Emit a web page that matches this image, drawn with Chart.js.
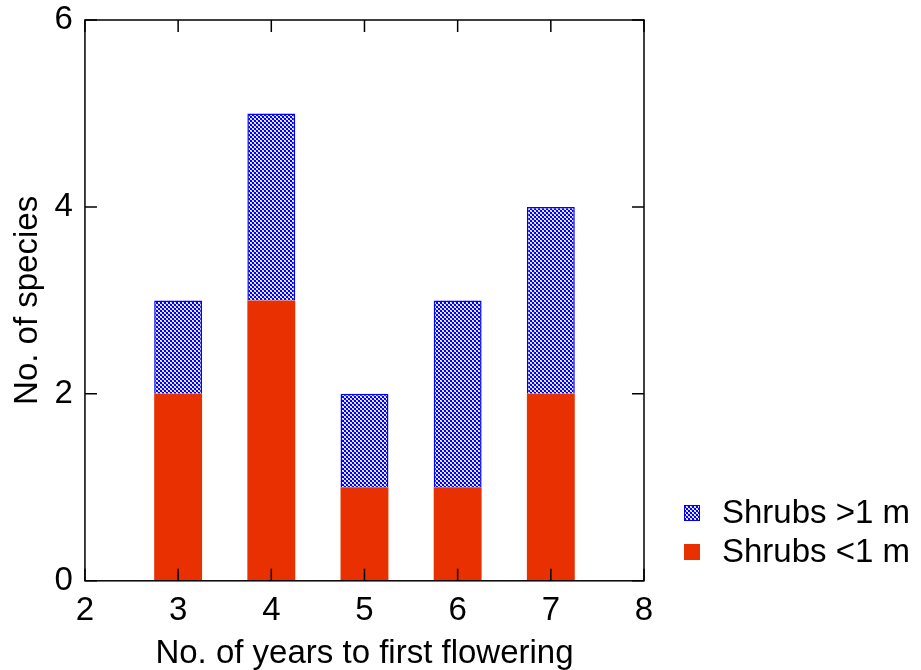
<!DOCTYPE html>
<html>
<head>
<meta charset="utf-8">
<script src="https://cdn.jsdelivr.net/npm/chart.js@4.4.0/dist/chart.umd.min.js"></script>
<style>
  html, body { margin: 0; padding: 0; background: #fff; }
  #wrap { width: 921px; height: 670px; }
</style>
</head>
<body>
<div id="wrap"><canvas id="chart"></canvas></div>
<script>
const years = [3, 4, 5, 6, 7];
const shrubsSmall = [2, 3, 1, 1, 2];   // Shrubs <1 m
const shrubsTall = [1, 2, 1, 2, 2];    // Shrubs >1 m
const xTicks = [2, 3, 4, 5, 6, 7, 8];
const yTicks = [0, 2, 4, 6];

const FONT = 'Liberation Sans, Arial, sans-serif';
const FS = 33;

function hatchPattern() {
  const c = document.createElement('canvas');
  c.width = 4; c.height = 4;
  const g = c.getContext('2d');
  g.fillStyle = '#0000ff';
  g.fillRect(0, 0, 4, 4);
  g.fillStyle = '#ffffff';
  [[0, 0], [1, 1], [2, 2], [3, 3]].forEach(p => g.fillRect(p[0], p[1], 1, 1));
  g.fillStyle = '#b8b8ff';
  [[1, 0], [0, 1], [3, 2], [2, 3]].forEach(p => g.fillRect(p[0], p[1], 1, 1));
  return g.createPattern(c, 'repeat');
}
const hatch = hatchPattern();

// inner ticks, top/right frame and legend
const framePlugin = {
  id: 'frame',
  afterDraw(chart) {
    const ctx = chart.ctx;
    const a = chart.chartArea;
    const xs = chart.scales.x, ys = chart.scales.y;
    ctx.save();
    ctx.strokeStyle = '#000';
    ctx.lineWidth = 1.5;
    ctx.strokeRect(a.left, a.top, a.right - a.left, a.bottom - a.top);
    ctx.beginPath();
    xTicks.forEach(v => {
      const px = xs.getPixelForValue(v);
      ctx.moveTo(px, a.bottom); ctx.lineTo(px, a.bottom - 12);
      ctx.moveTo(px, a.top); ctx.lineTo(px, a.top + 12);
    });
    yTicks.forEach(v => {
      const py = ys.getPixelForValue(v);
      ctx.moveTo(a.left, py); ctx.lineTo(a.left + 12, py);
      ctx.moveTo(a.right, py); ctx.lineTo(a.right - 12, py);
    });
    ctx.stroke();

    // legend
    const items = chart.data.datasets.slice().reverse();
    ctx.font = FS + 'px ' + FONT;
    ctx.textBaseline = 'middle';
    items.forEach((ds, i) => {
      const y = 513 + i * 39;
      ctx.fillStyle = ds.backgroundColor;
      ctx.fillRect(684, y - 8, 16, 16);
      if (ds.borderWidth) {
        ctx.strokeStyle = ds.borderColor;
        ctx.lineWidth = 1;
        ctx.strokeRect(684.5, y - 7.5, 15, 15);
      }
      ctx.fillStyle = '#000';
      ctx.fillText(ds.label, 722, y + 1);
    });
    ctx.restore();
  }
};

new Chart(document.getElementById('chart'), {
  type: 'bar',
  data: {
    datasets: [
      {
        label: 'Shrubs <1 m',
        data: years.map((x, i) => ({ x, y: shrubsSmall[i] })),
        backgroundColor: '#e83000',
        borderWidth: 0
      },
      {
        label: 'Shrubs >1 m',
        data: years.map((x, i) => ({ x, y: shrubsTall[i] })),
        backgroundColor: hatch,
        borderColor: '#0000ff',
        borderWidth: 1.5,
        borderSkipped: 'bottom'
      }
    ]
  },
  options: {
    responsive: true,
    maintainAspectRatio: false,
    animation: false,
    barPercentage: 0.514,
    categoryPercentage: 1,
    layout: { padding: { top: 20, right: 277, left: 8, bottom: -4 } },
    plugins: { legend: { display: false }, tooltip: { enabled: false } },
    scales: {
      x: {
        type: 'linear',
        stacked: true,
        offset: false,
        min: 2, max: 8,
        afterBuildTicks: s => { s.ticks = xTicks.map(v => ({ value: v })); },
        afterFit: s => { s.paddingLeft = 0; s.paddingRight = 0; },
        grid: { display: false, drawTicks: false, offset: false },
        border: { display: false },
        ticks: { color: '#000', font: { size: FS, family: FONT }, padding: 10, maxRotation: 0 },
        title: { display: true, text: 'No. of years to first flowering', color: '#000', font: { size: FS, family: FONT }, padding: { top: -6, bottom: 0 } }
      },
      y: {
        stacked: true,
        min: 0, max: 6,
        afterBuildTicks: s => { s.ticks = yTicks.map(v => ({ value: v })); },
        afterFit: s => { s.paddingTop = 0; s.paddingBottom = 0; },
        grid: { display: false, drawTicks: false },
        border: { display: false },
        ticks: { color: '#000', font: { size: FS, family: FONT }, padding: 12 },
        title: { display: true, text: 'No. of species', color: '#000', font: { size: FS, family: FONT }, padding: { top: 0, bottom: -5 } }
      }
    }
  },
  plugins: [framePlugin]
});
</script>
</body>
</html>
